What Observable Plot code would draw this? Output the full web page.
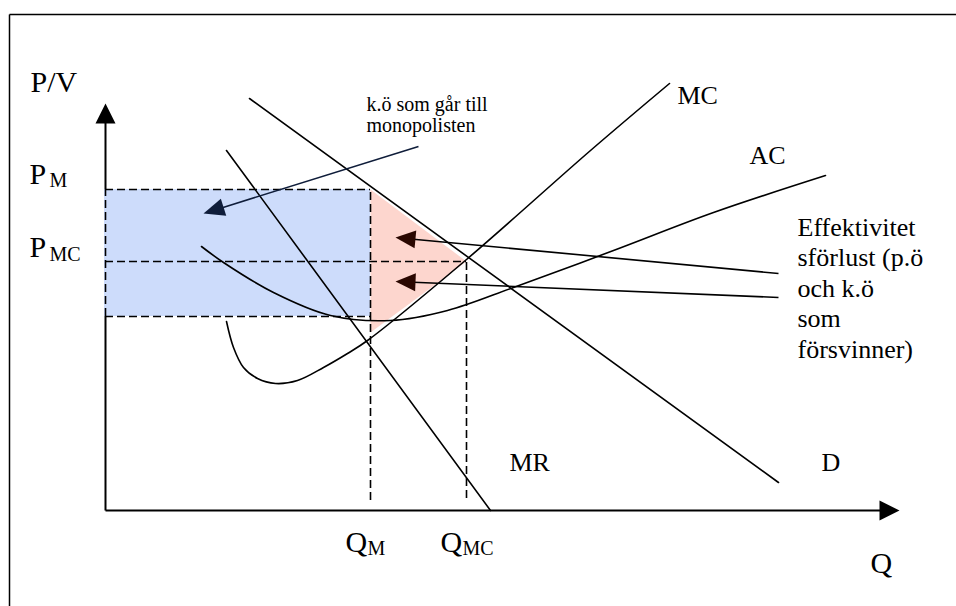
<!DOCTYPE html>
<html>
<head>
<meta charset="utf-8">
<script src="https://cdn.jsdelivr.net/npm/d3@7"></script>
<script src="https://cdn.jsdelivr.net/npm/@observablehq/plot@0.6"></script>
<style>
  html, body { margin: 0; padding: 0; background: #fff; }
  #chart svg { display: block; }
  #chart svg text, #chart svg tspan { font-family: "Liberation Serif", "Times New Roman", serif !important; }
</style>
</head>
<body>
<div id="chart"></div>
<script>
// Coordinates: q = quantity (to the right of the origin), p = price/value (up from the origin)

// Demand curve D
const demand = [{q: 144, p: 412}, {q: 673, p: 28}];
// Marginal revenue MR
const marginalRevenue = [{q: 121, p: 360}, {q: 385, p: 0}];
// Marginal cost MC (U shape, then rising)
const marginalCost = [
  {q: 121, p: 189}, {q: 128, p: 163}, {q: 138, p: 143}, {q: 152, p: 132},
  {q: 170, p: 127}, {q: 192, p: 130}, {q: 218, p: 143}, {q: 242, p: 157},
  {q: 262, p: 170}, {q: 361, p: 251}, {q: 485, p: 360}, {q: 564, p: 427}
];
// Average cost AC
const averageCost = [
  {q: 96, p: 264}, {q: 118, p: 248}, {q: 168, p: 218}, {q: 225, p: 195},
  {q: 285, p: 190}, {q: 342, p: 200}, {q: 408, p: 223}, {q: 508, p: 260},
  {q: 608, p: 298}, {q: 720, p: 335}
];

// Key levels
const QM = 265, QMC = 361;
const PM = 321, PMC = 249, ACatQM = 194;

// Shaded areas
const profitRect = [{q1: -1, q2: QM, p1: ACatQM, p2: PM}];
const deadweight = [{q: QM, p: PM}, {q: QMC, p: PMC}, {q: QM, p: 178}];

// Dashed guide lines
const dashedH = [
  {q1: 0, q2: QM, p: PM},
  {q1: 0, q2: QMC, p: PMC},
  {q1: 0, q2: QM, p: ACatQM}
];
const dashedV = [
  {q: 0, p1: ACatQM, p2: PM},
  {q: QM, p1: 10, p2: PM},
  {q: QMC, p1: 12, p2: PMC}
];

// Axes (as arrows) and frame
const axes = [
  {x1: 0, y1: 0, x2: 0, y2: 407},
  {x1: 0, y1: 0, x2: 794, y2: 0}
];
const frame = [
  {x1: -96, y1: 496, x2: 900, y2: 496},
  {x1: -96, y1: -150, x2: -96, y2: 496}
];

// Annotation arrows
const navyArrows = [{x1: 313, y1: 364, x2: 98, y2: 297}];
const brownArrows = [
  {x1: 673, y1: 237, x2: 290, y2: 273},
  {x1: 673, y1: 213, x2: 290, y2: 229}
];

// Labels
const bigLabels = [
  {t: "P/V", x: -75, y: 419},
  {t: "P", x: -76, y: 327},
  {t: "P", x: -76, y: 254},
  {t: "Q", x: 240, y: -41},
  {t: "Q", x: 335, y: -41},
  {t: "Q", x: 765, y: -62}
];
const subLabels = [
  {t: "M", x: -56, y: 324},
  {t: "MC", x: -56, y: 250},
  {t: "M", x: 262, y: -44},
  {t: "MC", x: 357, y: -44}
];
const curveLabels = [
  {t: "MC", x: 572, y: 407},
  {t: "AC", x: 644, y: 347},
  {t: "MR", x: 404, y: 40},
  {t: "D", x: 716, y: 40},
  {t: "Effektivitet\nsförlust (p.ö\noch k.ö\nsom\nförsvinner)", x: 692, y: 153}
];
const noteLabels = [{t: "k.ö som går till\nmonopolisten", x: 261, y: 379}];

// arrowhead triangles computed from each arrow's direction
function heads(list, len, half) {
  const out = [];
  list.forEach((a, i) => {
    const dx = a.x2 - a.x1, dy = a.y2 - a.y1, L = Math.hypot(dx, dy);
    const ux = dx / L, uy = dy / L;
    const bx = a.x2 - ux * len, by = a.y2 - uy * len;
    out.push({id: i, x: a.x2, y: a.y2},
             {id: i, x: bx - uy * half, y: by + ux * half},
             {id: i, x: bx + uy * half, y: by - ux * half});
  });
  return out;
}
function shafts(list, len) {
  return list.map(a => {
    const dx = a.x2 - a.x1, dy = a.y2 - a.y1, L = Math.hypot(dx, dy);
    return {x1: a.x1, y1: a.y1, x2: a.x2 - dx / L * (len - 2), y2: a.y2 - dy / L * (len - 2)};
  });
}

const serif = "Liberation Serif, Times New Roman, serif";

const chart = Plot.plot({
  width: 956,
  height: 606,
  margin: 0,
  style: {background: "#fff", fontFamily: serif},
  x: {axis: null, domain: [-105, 851], range: [0, 956]},
  y: {axis: null, domain: [-96, 510], range: [606, 0]},
  marks: [
    // frame
    Plot.link(frame, {x1: "x1", y1: "y1", x2: "x2", y2: "y2", stroke: "#000", strokeWidth: 1.5}),
    // axes
    Plot.link(shafts(axes, 20), {x1: "x1", y1: "y1", x2: "x2", y2: "y2", stroke: "#000", strokeWidth: 2}),
    Plot.line(heads(axes, 20, 10), {x: "x", y: "y", z: "id", fill: "#000", stroke: "none"}),
    // shaded areas
    Plot.rect(profitRect, {x1: "q1", x2: "q2", y1: "p1", y2: "p2", fill: "#cddcfb"}),
    Plot.line(deadweight, {x: "q", y: "p", fill: "#fdd6ce", stroke: "none"}),
    // dashed guides
    Plot.ruleY(dashedH, {y: "p", x1: "q1", x2: "q2", stroke: "#000", strokeWidth: 1.6, strokeDasharray: "8,4"}),
    Plot.ruleX(dashedV, {x: "q", y1: "p1", y2: "p2", stroke: "#000", strokeWidth: 1.6, strokeDasharray: "8,4"}),
    // curves
    Plot.line(demand, {x: "q", y: "p", stroke: "#000", strokeWidth: 1.6}),
    Plot.line(marginalRevenue, {x: "q", y: "p", stroke: "#000", strokeWidth: 1.6}),
    Plot.line(marginalCost, {x: "q", y: "p", stroke: "#000", strokeWidth: 1.6, curve: "catmull-rom"}),
    Plot.line(averageCost, {x: "q", y: "p", stroke: "#000", strokeWidth: 1.6, curve: "catmull-rom"}),
    // annotation arrows
    Plot.link(shafts(navyArrows, 20), {x1: "x1", y1: "y1", x2: "x2", y2: "y2", stroke: "#0f1d3a", strokeWidth: 1.6}),
    Plot.line(heads(navyArrows, 21, 9), {x: "x", y: "y", z: "id", fill: "#0f1d3a", stroke: "none"}),
    Plot.link(shafts(brownArrows, 20), {x1: "x1", y1: "y1", x2: "x2", y2: "y2", stroke: "#000", strokeWidth: 1.6}),
    Plot.line(heads(brownArrows, 20, 9), {x: "x", y: "y", z: "id", fill: "#2a0700", stroke: "none"}),
    // text
    Plot.text(bigLabels, {x: "x", y: "y", text: "t", fontSize: 30, fontFamily: serif, textAnchor: "start", lineAnchor: "bottom", fill: "#000"}),
    Plot.text(subLabels, {x: "x", y: "y", text: "t", fontSize: 20, fontFamily: serif, textAnchor: "start", lineAnchor: "bottom", fill: "#000"}),
    Plot.text(curveLabels, {x: "x", y: "y", text: "t", fontSize: 26, lineHeight: 1.17, fontFamily: serif, textAnchor: "start", lineAnchor: "bottom", fill: "#000"}),
    Plot.text(noteLabels, {x: "x", y: "y", text: "t", fontSize: 20, lineHeight: 1.05, fontFamily: serif, textAnchor: "start", lineAnchor: "bottom", fill: "#000"})
  ]
});
document.getElementById("chart").appendChild(chart);
</script>
</body>
</html>
